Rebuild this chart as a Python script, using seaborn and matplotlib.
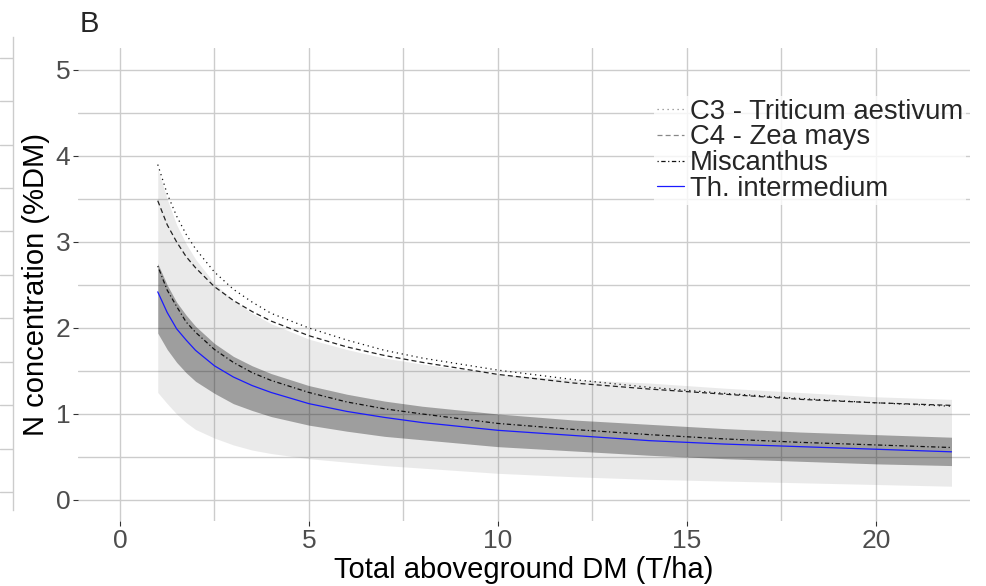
import numpy as np
import pandas as pd
import seaborn as sns
import matplotlib
matplotlib.use('Agg')
import matplotlib.pyplot as plt
from matplotlib.ticker import MultipleLocator

# valeurs
dm = [1, 1.25, 1.5, 1.75, 2, 2.5, 3, 3.5, 4, 5, 6, 7, 8, 10, 12, 14, 16, 18, 20, 22]
c3 = [3.90, 3.56, 3.30, 3.09, 2.92, 2.65, 2.45, 2.30, 2.17, 2.00, 1.86, 1.74, 1.65, 1.51, 1.40, 1.31, 1.24, 1.18, 1.13, 1.09]
c4 = [3.48, 3.20, 3.00, 2.83, 2.70, 2.48, 2.32, 2.19, 2.08, 1.91, 1.78, 1.68, 1.60, 1.46, 1.36, 1.29, 1.23, 1.17, 1.13, 1.10]
misc = [2.72, 2.44, 2.25, 2.07, 1.95, 1.75, 1.60, 1.48, 1.39, 1.25, 1.14, 1.06, 1.00, 0.89, 0.82, 0.76, 0.71, 0.67, 0.64, 0.61]
thi = [2.42, 2.18, 1.99, 1.86, 1.74, 1.56, 1.43, 1.33, 1.25, 1.12, 1.03, 0.96, 0.90, 0.81, 0.75, 0.69, 0.65, 0.62, 0.59, 0.56]
dark_lo = [1.94, 1.75, 1.60, 1.48, 1.38, 1.24, 1.12, 1.04, 0.97, 0.87, 0.80, 0.74, 0.70, 0.62, 0.57, 0.52, 0.48, 0.45, 0.42, 0.40]
dark_hi = [2.75, 2.50, 2.30, 2.15, 2.02, 1.82, 1.67, 1.56, 1.47, 1.33, 1.23, 1.15, 1.09, 1.00, 0.93, 0.88, 0.83, 0.79, 0.76, 0.73]
light_lo = [1.25, 1.12, 1.00, 0.90, 0.82, 0.72, 0.64, 0.58, 0.54, 0.48, 0.44, 0.40, 0.37, 0.31, 0.27, 0.24, 0.22, 0.20, 0.18, 0.16]
light_hi = [3.85, 3.50, 3.20, 2.98, 2.80, 2.52, 2.32, 2.17, 2.05, 1.87, 1.75, 1.65, 1.58, 1.46, 1.40, 1.36, 1.30, 1.25, 1.20, 1.17]

labels = ['C3 - Triticum aestivum', 'C4 - Zea mays', 'Miscanthus', 'Th. intermedium']

df = pd.DataFrame({'dm': dm, 'c3': c3, 'c4': c4, 'misc': misc, 'thi': thi})

sns.set_theme(style='whitegrid')
plt.rcParams['font.family'] = ['Liberation Sans', 'DejaVu Sans']

fig = plt.figure(figsize=(9.86, 5.86), dpi=100)
ax = fig.add_axes([0.0791, 0.1101, 0.9047, 0.8072])

grid_col = '#cccccc'

# bandes
ax.fill_between(dm, light_lo, light_hi, color='grey', alpha=0.16, lw=0, zorder=1)
ax.fill_between(dm, dark_lo, dark_hi, color='black', alpha=0.32, lw=0, zorder=2)

# courbes
sns.lineplot(data=df, x='dm', y='c3', ax=ax, color='#111111', lw=0.9,
             linestyle=(0, (1, 3)), label=labels[0], zorder=3)
sns.lineplot(data=df, x='dm', y='c4', ax=ax, color='#222222', lw=0.9,
             linestyle=(0, (4, 2.5)), label=labels[1], zorder=3)
sns.lineplot(data=df, x='dm', y='misc', ax=ax, color='#111111', lw=0.9,
             linestyle=(0, (1, 2, 3.5, 2)), label=labels[2], zorder=3)
sns.lineplot(data=df, x='dm', y='thi', ax=ax, color='#1a1aff', lw=0.9,
             label=labels[3], zorder=4)

ax.set_xlim(-1.11, 22.49)
ax.set_ylim(-0.25, 5.25)
ax.xaxis.set_major_locator(MultipleLocator(5))
ax.xaxis.set_minor_locator(MultipleLocator(2.5))
ax.yaxis.set_major_locator(MultipleLocator(1))
ax.yaxis.set_minor_locator(MultipleLocator(0.5))
ax.grid(which='both', color=grid_col, lw=1.0)
ax.set_axisbelow(True)
for s in ax.spines.values():
    s.set_visible(False)
ax.tick_params(which='major', length=3.6, width=0.8, color='#333333',
               labelsize=19, labelcolor='#4d4d4d', pad=2, bottom=True, left=True)
ax.tick_params(which='minor', length=0)

ax.set_xlabel('Total aboveground DM (T/ha)', fontsize=21, color='black', labelpad=2)
ax.set_ylabel('N concentration (%DM)', fontsize=21, color='black', labelpad=4)

leg = ax.legend(loc='upper left', bbox_to_anchor=(654 / 986, 1 - 96 / 586),
                bbox_transform=fig.transFigure, frameon=True, fontsize=19.8,
                handlelength=1.0, handletextpad=0.2, labelspacing=-0.01,
                borderpad=0.1, borderaxespad=0, fancybox=False)
leg.get_frame().set_facecolor('white')
leg.get_frame().set_edgecolor('white')
leg.get_frame().set_linewidth(0)
for lh in leg.get_lines():
    lh.set_linewidth(0.9)
leg.get_lines()[0].set_color('#888888')
leg.get_lines()[1].set_color('#888888')

fig.text(80 / 986, 1 - 10 / 586, 'B', fontsize=21, va='top', ha='left')

# reste du panneau voisin a gauche
ax0 = fig.add_axes([0, 1 - 510 / 586, 13 / 986, 473 / 586])
ax0.set_facecolor('white')
ax0.set_ylim(-0.415, 10.48)
ax0.set_yticks(np.arange(0, 11))
ax0.set_xticks([])
ax0.grid(axis='y', color=grid_col, lw=1.0)
ax0.tick_params(left=False, labelleft=False)
for k, s in ax0.spines.items():
    s.set_visible(k == 'right')
ax0.spines['right'].set_color(grid_col)
ax0.spines['right'].set_linewidth(1.0)

plt.savefig('out.png', dpi=100)
